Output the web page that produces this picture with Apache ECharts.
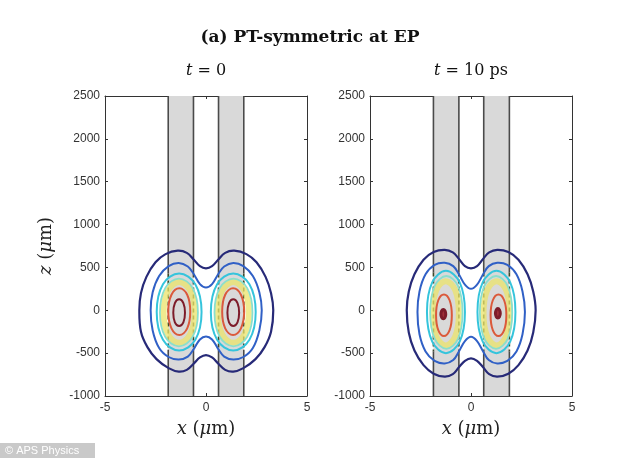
<!DOCTYPE html>
<html><head><meta charset="utf-8">
<script src="https://cdn.jsdelivr.net/npm/echarts@6/dist/echarts.min.js"></script>
<style>html,body{margin:0;padding:0;background:#fff}#c{width:634px;height:459px}</style>
</head><body><div id="c"></div><script>
// ---------- data (x in µm, z in µm) ----------
const mainTitle = '(a) PT-symmetric at EP';
const panelTitles = ['{i|t} = 0', '{i|t} = 10 ps'];
const xRange = [-5, 5], xStep = 5;
const zRange = [-1000, 2500], zStep = 500;

// guiding bands (gray stripes)
const bandsT0 = [[-1.87, -0.62], [0.62, 1.87]];
const bandsT10 = [[-1.86, -0.60], [0.63, 1.90]];
// z range where the stripe edges appear dashed
const dashT0 = [-460, 430];
const dashT10 = [-480, 440];

// ---- t = 0 contours ----
const t0Navy = [[-3.30,0],[-3.22,200],[-2.95,390],[-2.50,560],[-2.00,655],[-1.40,695],[-0.95,670],[-0.60,590],[-0.30,515],[0,490],[0.30,515],[0.60,590],[0.95,670],[1.40,695],[2.00,655],[2.50,560],[2.95,390],[3.22,200],[3.33,0],[3.22,-250],[2.90,-430],[2.45,-570],[1.85,-675],[1.35,-716],[0.95,-695],[0.60,-620],[0.30,-550],[0,-522],[-0.30,-550],[-0.60,-620],[-0.95,-695],[-1.35,-716],[-1.85,-675],[-2.45,-570],[-2.90,-430],[-3.22,-250]];
const t0Blue = [[-2.74,0],[-2.64,210],[-2.32,400],[-1.85,515],[-1.35,552],[-0.90,510],[-0.60,420],[-0.30,305],[0,265],[0.30,305],[0.60,420],[0.90,510],[1.35,552],[1.85,515],[2.32,400],[2.64,210],[2.76,0],[2.64,-235],[2.32,-440],[1.85,-545],[1.35,-575],[0.90,-540],[0.60,-450],[0.30,-340],[0,-305],[-0.30,-340],[-0.60,-450],[-0.90,-540],[-1.35,-575],[-1.85,-545],[-2.32,-440],[-2.64,-235]];
const t0CyanL = [[-2.44,-20],[-2.13,304],[-1.33,430],[-0.53,304],[-0.22,-20],[-0.53,-344],[-1.33,-470],[-2.13,-344]];
const t0CyanR = [[2.46,-20],[2.15,304],[1.35,430],[0.55,304],[0.24,-20],[0.55,-344],[1.35,-470],[2.15,-344]];
const t0AquaL = [[-2.28,-25],[-2.02,259],[-1.34,370],[-0.66,259],[-0.40,-25],[-0.66,-309],[-1.34,-420],[-2.02,-309]];
const t0AquaR = [[2.30,-25],[2.04,259],[1.36,370],[0.68,259],[0.42,-25],[0.68,-309],[1.36,-420],[2.04,-309]];
const t0YellowL = [[-2.10,-25],[-1.88,231],[-1.33,330],[-0.78,231],[-0.56,-25],[-0.78,-281],[-1.33,-380],[-1.88,-281]];
const t0YellowR = [[2.12,-25],[1.90,231],[1.35,330],[0.80,231],[0.58,-25],[0.80,-281],[1.35,-380],[1.90,-281]];
const t0OrangeL = [[-1.87,-15],[-1.71,181],[-1.32,257],[-0.93,181],[-0.78,-15],[-0.93,-211],[-1.32,-288],[-1.71,-211]];
const t0OrangeR = [[1.89,-15],[1.73,181],[1.34,257],[0.95,181],[0.80,-15],[0.95,-211],[1.34,-288],[1.73,-211]];
const t0RedL = [[-1.62,-28],[-1.54,84],[-1.33,128],[-1.12,84],[-1.04,-28],[-1.12,-140],[-1.33,-183],[-1.54,-140]];
const t0RedR = [[1.64,-28],[1.56,84],[1.35,128],[1.14,84],[1.06,-28],[1.14,-140],[1.35,-183],[1.56,-140]];

// ---- t = 10 ps contours ----
const t10Navy = [[-3.18,0],[-3.08,220],[-2.80,420],[-2.35,590],[-1.85,680],[-1.30,705],[-0.90,675],[-0.60,600],[-0.30,515],[0,490],[0.30,515],[0.60,600],[0.90,675],[1.30,705],[1.85,680],[2.35,590],[2.80,420],[3.08,220],[3.20,0],[3.08,-260],[2.80,-470],[2.35,-640],[1.85,-740],[1.30,-775],[0.90,-745],[0.60,-665],[0.30,-590],[0,-560],[-0.30,-590],[-0.60,-665],[-0.90,-745],[-1.30,-775],[-1.85,-740],[-2.35,-640],[-2.80,-470],[-3.08,-260]];
const t10Blue = [[-2.65,-20],[-2.55,220],[-2.25,420],[-1.80,530],[-1.30,555],[-0.88,515],[-0.60,420],[-0.30,300],[0,250],[0.30,300],[0.60,420],[0.88,515],[1.30,555],[1.80,530],[2.25,420],[2.55,220],[2.67,-20],[2.55,-280],[2.25,-480],[1.80,-590],[1.30,-620],[0.88,-580],[0.60,-480],[0.30,-360],[0,-310],[-0.30,-360],[-0.60,-480],[-0.88,-580],[-1.30,-620],[-1.80,-590],[-2.25,-480],[-2.55,-280]];
const t10CyanL = [[-2.18,-20],[-1.92,326],[-1.24,460],[-0.56,326],[-0.30,-20],[-0.56,-366],[-1.24,-500],[-1.92,-366]];
const t10CyanR = [[2.20,-20],[1.94,326],[1.26,460],[0.58,326],[0.32,-20],[0.58,-366],[1.26,-500],[1.94,-366]];
const t10AquaL = [[-2.02,-25],[-1.80,281],[-1.22,400],[-0.64,281],[-0.42,-25],[-0.64,-331],[-1.22,-450],[-1.80,-331]];
const t10AquaR = [[2.04,-25],[1.82,281],[1.24,400],[0.66,281],[0.44,-25],[0.66,-331],[1.24,-450],[1.82,-331]];
const t10YellowL = [[-1.90,-35],[-1.72,235],[-1.25,340],[-0.78,235],[-0.60,-35],[-0.78,-305],[-1.25,-410],[-1.72,-305]];
const t10YellowR = [[1.92,-35],[1.74,235],[1.27,340],[0.80,235],[0.62,-35],[0.80,-305],[1.27,-410],[1.74,-305]];
const t10OrangeL = [[-1.73,-57],[-1.62,117],[-1.34,185],[-1.06,117],[-0.95,-57],[-1.06,-231],[-1.34,-300],[-1.62,-231]];
const t10OrangeR = [[1.75,-57],[1.64,117],[1.36,185],[1.08,117],[0.97,-57],[1.08,-231],[1.36,-300],[1.64,-231]];
const t10RedL = [[-1.49,-45],[-1.45,-5],[-1.37,10],[-1.29,-5],[-1.25,-45],[-1.29,-85],[-1.37,-100],[-1.45,-85]];
const t10RedR = [[1.21,-35],[1.25,5],[1.33,20],[1.41,5],[1.45,-35],[1.41,-75],[1.33,-90],[1.25,-75]];

// ---------- styles ----------
const C = {navy:'#272a78', blue:'#3060c6', cyan:'#35c4dc', aqua:'#8adfcc', yellow:'#ebe36a', orange:'#db5a3b', red:'#7d1c2a'};
const serif = '"DejaVu Serif", "Liberation Serif", serif';
const sans = '"Liberation Sans", Arial, sans-serif';

function contour(pts, color, width, ax, opacity, fill) {
  return {
    type: 'custom', xAxisIndex: ax, yAxisIndex: ax, data: pts, encode: {x: 0, y: 1},
    silent: true, animation: false, clip: true,
    renderItem: function (params, api) {
      if (params.dataIndex !== 0) return null;
      return {type: 'polygon', shape: {points: pts.map(p => api.coord(p)), smooth: 0.38},
        style: {fill: fill || 'none', stroke: color, lineWidth: width, opacity: opacity == null ? 1 : opacity}};
    }
  };
}
function bands(list, ax) {
  return {
    type: 'custom', xAxisIndex: ax, yAxisIndex: ax, data: list, silent: true, animation: false,
    encode: {x: [0, 1]},
    renderItem: function (params, api) {
      const a = api.coord([api.value(0), zRange[1]]);
      const b = api.coord([api.value(1), zRange[0]]);
      return {type: 'rect', shape: {x: a[0], y: a[1], width: b[0] - a[0], height: b[1] - a[1]},
        style: {fill: '#d9d9d9'}};
    }
  };
}
function edges(list, dash, ax) {
  const xs = [];
  list.forEach(b => { xs.push([b[0]]); xs.push([b[1]]); });
  return {
    type: 'custom', xAxisIndex: ax, yAxisIndex: ax, data: xs, silent: true, animation: false,
    encode: {x: 0},
    renderItem: function (params, api) {
      const x = api.value(0);
      const top = api.coord([x, zRange[1]]), d1 = api.coord([x, dash[1]]);
      const d0 = api.coord([x, dash[0]]), bot = api.coord([x, zRange[0]]);
      const st = {stroke: '#4a4a4a', lineWidth: 1.6};
      return {type: 'group', children: [
        {type: 'line', shape: {x1: top[0], y1: top[1], x2: d1[0], y2: d1[1]}, style: st},
        {type: 'line', shape: {x1: d1[0], y1: d1[1], x2: d0[0], y2: d0[1]}, style: {stroke: '#3d4a2c', lineWidth: 1.6, lineDash: [4, 3]}},
        {type: 'line', shape: {x1: d0[0], y1: d0[1], x2: bot[0], y2: bot[1]}, style: st}
      ]};
    }
  };
}
function panelSeries(ax, bandList, dash, c) {
  return [
    bands(bandList, ax),
    edges(bandList, dash, ax),
    contour(c.yL, C.yellow, 6, ax, 0.75), contour(c.yR, C.yellow, 6, ax, 0.75),
    contour(c.navy, C.navy, 2.2, ax), contour(c.blue, C.blue, 2, ax),
    contour(c.cL, C.cyan, 2, ax), contour(c.cR, C.cyan, 2, ax),
    contour(c.aL, C.aqua, 1.8, ax), contour(c.aR, C.aqua, 1.8, ax),
    contour(c.oL, C.orange, 2, ax), contour(c.oR, C.orange, 2, ax),
    contour(c.rL, C.red, c.dot ? 3 : 2, ax, 1, c.dot ? '#a0303a' : null),
    contour(c.rR, C.red, c.dot ? 3 : 2, ax, 1, c.dot ? '#a0303a' : null)
  ];
}

const axisLineStyle = {color: '#333', width: 1};
const richName = {i: {fontStyle: 'italic', fontFamily: serif, fontSize: 18, color: '#222'}};
const plainLabel = v => String(v);
function xAxisDef(grid, pos, labels) {
  return {
    type: 'value', gridIndex: grid, position: pos, min: xRange[0], max: xRange[1], interval: xStep,
    axisLine: {show: true, onZero: false, lineStyle: axisLineStyle},
    axisTick: {show: true, inside: true, length: 3, lineStyle: axisLineStyle},
    axisLabel: {show: labels, fontFamily: sans, fontSize: 12, color: '#333', margin: 6, formatter: plainLabel},
    splitLine: {show: false},
    name: labels ? '{i|x} ({i|\u03bc}m)' : '', nameLocation: 'middle', nameGap: 24,
    nameTextStyle: {fontFamily: serif, fontSize: 18, color: '#222', rich: richName}
  };
}
function yAxisDef(grid, pos, labels, name) {
  return {
    type: 'value', gridIndex: grid, position: pos, min: zRange[0], max: zRange[1], interval: zStep,
    axisLine: {show: true, onZero: false, lineStyle: axisLineStyle},
    axisTick: {show: true, inside: true, length: 3, lineStyle: axisLineStyle},
    axisLabel: {show: labels, fontFamily: sans, fontSize: 12, color: '#333', margin: 5, formatter: plainLabel},
    splitLine: {show: false},
    name: name ? '{i|z} ({i|\u03bc}m)' : '', nameLocation: 'middle', nameGap: 50, nameRotate: 90,
    nameTextStyle: {fontFamily: serif, fontSize: 18, color: '#222', rich: richName}
  };
}

const chart = echarts.init(document.getElementById('c'), null, {renderer: 'canvas'});
chart.setOption({
  animation: false,
  backgroundColor: '#fff',
  grid: [
    {left: 105, top: 96, width: 202, height: 300},
    {left: 370, top: 96, width: 202, height: 300}
  ],
  xAxis: [xAxisDef(0, 'bottom', true), xAxisDef(0, 'top', false), xAxisDef(1, 'bottom', true), xAxisDef(1, 'top', false)],
  yAxis: [yAxisDef(0, 'left', true, true), yAxisDef(0, 'right', false, false), yAxisDef(1, 'left', true, false), yAxisDef(1, 'right', false, false)],
  graphic: [
    {type: 'text', x: 310, y: 29, style: {text: mainTitle, fontFamily: serif, fontWeight: 'bold', fontSize: 17, fill: '#111', textAlign: 'center', textVerticalAlign: 'top'}},
    {type: 'text', x: 206, y: 63, style: {text: panelTitles[0], fontFamily: serif, fontSize: 16, fill: '#111', textAlign: 'center', textVerticalAlign: 'top', rich: {i: {fontStyle: 'italic', fontFamily: serif, fontSize: 16, fill: '#111'}}}},
    {type: 'text', x: 471, y: 63, style: {text: panelTitles[1], fontFamily: serif, fontSize: 16, fill: '#111', textAlign: 'center', textVerticalAlign: 'top', rich: {i: {fontStyle: 'italic', fontFamily: serif, fontSize: 16, fill: '#111'}}}},
    {type: 'rect', shape: {x: 0, y: 443, width: 95, height: 15}, style: {fill: '#c9c9c9'}},
    {type: 'text', x: 5, y: 451, style: {text: '\u00a9 APS Physics', fontFamily: sans, fontSize: 11, fill: '#fff', textVerticalAlign: 'middle'}}
  ],
  series: [].concat(
    panelSeries(0, bandsT0, dashT0, {navy: t0Navy, blue: t0Blue, cL: t0CyanL, cR: t0CyanR, aL: t0AquaL, aR: t0AquaR, yL: t0YellowL, yR: t0YellowR, oL: t0OrangeL, oR: t0OrangeR, rL: t0RedL, rR: t0RedR, dot: false}),
    panelSeries(2, bandsT10, dashT10, {navy: t10Navy, blue: t10Blue, cL: t10CyanL, cR: t10CyanR, aL: t10AquaL, aR: t10AquaR, yL: t10YellowL, yR: t10YellowR, oL: t10OrangeL, oR: t10OrangeR, rL: t10RedL, rR: t10RedR, dot: true})
  )
});
</script></body></html>
